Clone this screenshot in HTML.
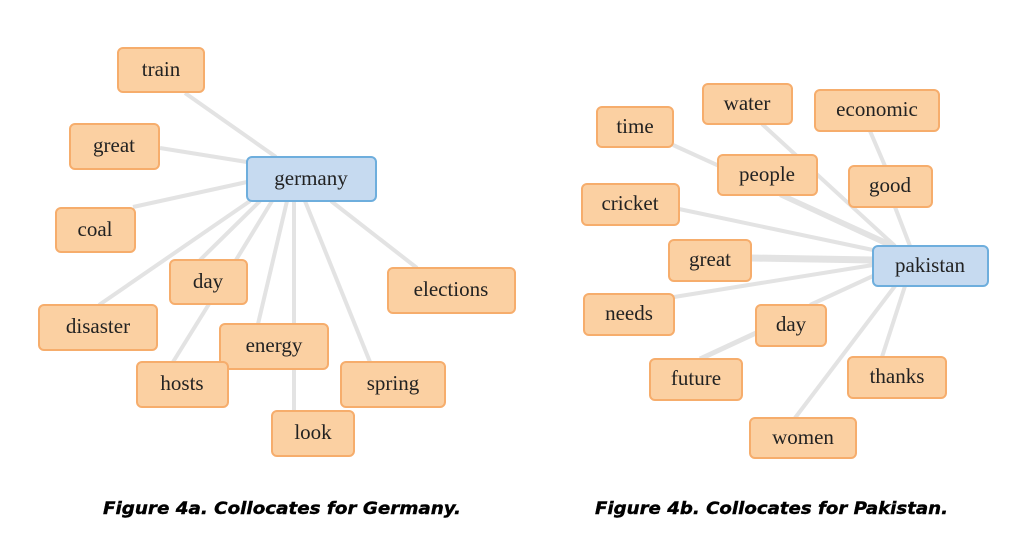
<!DOCTYPE html>
<html><head><meta charset="utf-8"><style>
html,body{margin:0;padding:0;background:#fff;}
svg{display:block}
.n rect{fill:#fbd0a2;stroke:#f6ad6c;stroke-width:2}
.c rect{fill:#c6daf0;stroke:#6eaedd;stroke-width:2}
text.l{font-family:"Liberation Serif",serif;font-size:21px;fill:#222;text-anchor:middle;dominant-baseline:central}
line{stroke:#e3e3e3;stroke-width:4}
.cap{font-family:"DejaVu Sans","Liberation Sans",sans-serif;font-weight:bold;font-style:italic;font-size:17px;fill:#000;stroke:#000;stroke-width:0.4}
</style></head><body>
<svg width="1023" height="535" viewBox="0 0 1023 535" xmlns="http://www.w3.org/2000/svg">
<line x1="185" y1="93" x2="276" y2="157"/>
<line x1="160" y1="148" x2="247" y2="162"/>
<line x1="133" y1="207" x2="247" y2="182"/>
<line x1="99" y1="305" x2="250" y2="201"/>
<line x1="200" y1="260" x2="260" y2="201"/>
<line x1="236" y1="260" x2="272" y2="201"/>
<line x1="173" y1="362" x2="209" y2="304"/>
<line x1="258" y1="324" x2="287" y2="201"/>
<line x1="294" y1="411" x2="294" y2="201"/>
<line x1="370" y1="362" x2="305" y2="201"/>
<line x1="417" y1="268" x2="331" y2="201"/>
<line x1="673" y1="145" x2="895" y2="246"/>
<line x1="762" y1="124" x2="895" y2="246"/>
<line x1="780" y1="195" x2="890" y2="246"/>
<line x1="870" y1="131" x2="885" y2="166"/>
<line x1="895" y1="207" x2="910" y2="246"/>
<line x1="679" y1="209" x2="873" y2="250"/>
<line x1="751" y1="258" x2="873" y2="260" style="stroke-width:7"/>
<line x1="674" y1="297" x2="873" y2="265"/>
<line x1="810" y1="305" x2="873" y2="276"/>
<line x1="700" y1="359" x2="756" y2="333" style="stroke-width:5"/>
<line x1="882" y1="357" x2="905" y2="286"/>
<line x1="795" y1="418" x2="895" y2="286"/>

<g class="n"><rect x="118" y="48" width="86" height="44" rx="5"/><text class="l" x="161" y="69">train</text></g>
<g class="n"><rect x="70" y="124" width="89" height="45" rx="5"/><text class="l" x="114" y="145">great</text></g>
<g class="c"><rect x="247" y="157" width="129" height="44" rx="5"/><text class="l" x="311" y="178">germany</text></g>
<g class="n"><rect x="56" y="208" width="79" height="44" rx="5"/><text class="l" x="95" y="229">coal</text></g>
<g class="n"><rect x="170" y="260" width="77" height="44" rx="5"/><text class="l" x="208" y="281">day</text></g>
<g class="n"><rect x="39" y="305" width="118" height="45" rx="5"/><text class="l" x="98" y="326">disaster</text></g>
<g class="n"><rect x="388" y="268" width="127" height="45" rx="5"/><text class="l" x="451" y="289">elections</text></g>
<g class="n"><rect x="220" y="324" width="108" height="45" rx="5"/><text class="l" x="274" y="345">energy</text></g>
<g class="n"><rect x="137" y="362" width="91" height="45" rx="5"/><text class="l" x="182" y="383">hosts</text></g>
<g class="n"><rect x="341" y="362" width="104" height="45" rx="5"/><text class="l" x="393" y="383">spring</text></g>
<g class="n"><rect x="272" y="411" width="82" height="45" rx="5"/><text class="l" x="313" y="432">look</text></g>

<g class="n"><rect x="703" y="84" width="89" height="40" rx="5"/><text class="l" x="747" y="103">water</text></g>
<g class="n"><rect x="815" y="90" width="124" height="41" rx="5"/><text class="l" x="877" y="109">economic</text></g>
<g class="n"><rect x="597" y="107" width="76" height="40" rx="5"/><text class="l" x="635" y="126">time</text></g>
<g class="n"><rect x="718" y="155" width="99" height="40" rx="5"/><text class="l" x="767" y="174">people</text></g>
<g class="n"><rect x="849" y="166" width="83" height="41" rx="5"/><text class="l" x="890" y="185">good</text></g>
<g class="n"><rect x="582" y="184" width="97" height="41" rx="5"/><text class="l" x="630" y="203">cricket</text></g>
<g class="n"><rect x="669" y="240" width="82" height="41" rx="5"/><text class="l" x="710" y="259">great</text></g>
<g class="c"><rect x="873" y="246" width="115" height="40" rx="5"/><text class="l" x="930" y="265">pakistan</text></g>
<g class="n"><rect x="584" y="294" width="90" height="41" rx="5"/><text class="l" x="629" y="313">needs</text></g>
<g class="n"><rect x="756" y="305" width="70" height="41" rx="5"/><text class="l" x="791" y="324">day</text></g>
<g class="n"><rect x="650" y="359" width="92" height="41" rx="5"/><text class="l" x="696" y="378">future</text></g>
<g class="n"><rect x="848" y="357" width="98" height="41" rx="5"/><text class="l" x="897" y="376">thanks</text></g>
<g class="n"><rect x="750" y="418" width="106" height="40" rx="5"/><text class="l" x="803" y="437">women</text></g>

<text class="cap" x="103" y="514" textLength="358" lengthAdjust="spacingAndGlyphs">Figure 4a. Collocates for Germany.</text>
<text class="cap" x="595" y="514" textLength="353" lengthAdjust="spacingAndGlyphs">Figure 4b. Collocates for Pakistan.</text>
</svg>
</body></html>
